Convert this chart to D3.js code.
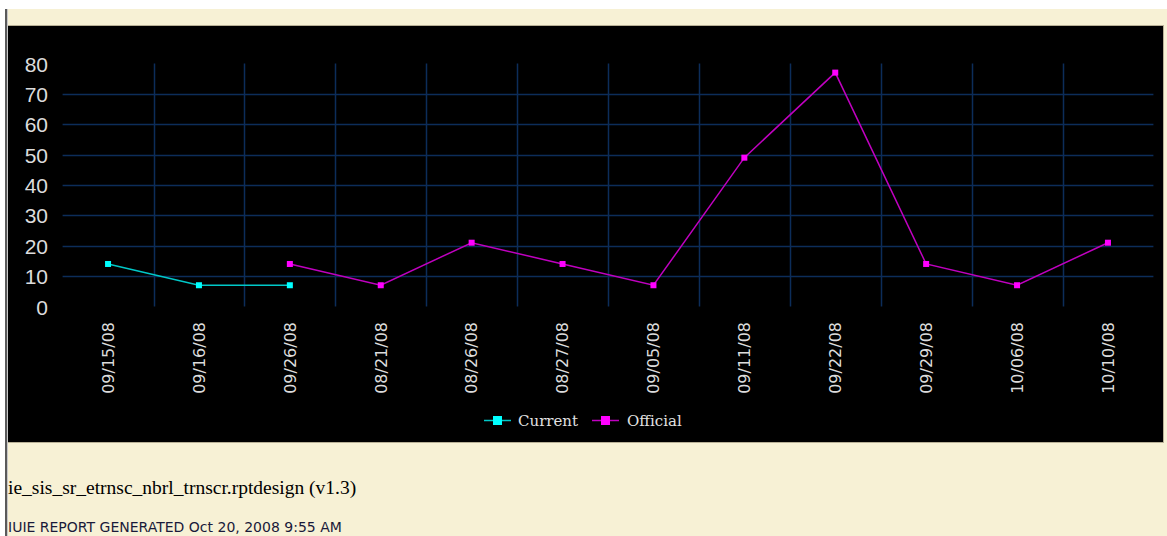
<!DOCTYPE html>
<html><head><meta charset="utf-8">
<script src="https://cdn.jsdelivr.net/npm/d3@7"></script>
<style>html,body{margin:0;padding:0;background:#fff;overflow:hidden}</style>
</head><body>
<svg id="c" width="1167" height="536"></svg>
<script>
const categories = ["09/15/08","09/16/08","09/26/08","08/21/08","08/26/08","08/27/08","09/05/08","09/11/08","09/22/08","09/29/08","10/06/08","10/10/08"];
const currentValues = [14, 7, 7, null, null, null, null, null, null, null, null, null];
const officialValues = [null, null, 14, 7, 21, 14, 7, 49, 77, 14, 7, 21];
const yTicks = [0, 10, 20, 30, 40, 50, 60, 70, 80];
const seriesNames = ["Current", "Official"];
const footer1 = "ie_sis_sr_etrnsc_nbrl_trnscr.rptdesign (v1.3)";
const footer2 = "IUIE REPORT GENERATED Oct 20, 2008 9:55 AM";

const svg = d3.select("#c");
// page background
svg.append("rect").attr("x",0).attr("y",0).attr("width",1167).attr("height",536).attr("fill","#ffffff");
svg.append("rect").attr("x",6).attr("y",9).attr("width",1161).attr("height",527).attr("fill","#f7f1d5");
svg.append("rect").attr("x",5).attr("y",9).attr("width",2).attr("height",527).attr("fill","#5a5a5a");
svg.append("rect").attr("x",7).attr("y",9).attr("width",1).attr("height",527).attr("fill","#c8c8c8");
// chart panel
svg.append("rect").attr("x",8).attr("y",25).attr("width",1156).attr("height",418).attr("fill","#b8b096");
svg.append("rect").attr("x",8).attr("y",26).attr("width",1155).attr("height",416).attr("fill","#000000");

const x = d3.scaleBand().domain(categories).range([62.6, 1153.4]);
const y = d3.scaleLinear().domain([0, 80]).range([306.5, 63.5]);
const gridColor = "#0c2d5a";

// horizontal grid
svg.append("g").selectAll("line").data(yTicks.filter(t => t > 0 && t < 80)).join("line")
  .attr("x1", 62.6).attr("x2", 1153.4)
  .attr("y1", d => Math.round(y(d)) + 0.5).attr("y2", d => Math.round(y(d)) + 0.5)
  .attr("stroke", gridColor).attr("stroke-width", 1.5);
// vertical grid at inner band boundaries
svg.append("g").selectAll("line").data(categories.slice(1)).join("line")
  .attr("x1", d => Math.round(x(d)) + 0.5).attr("x2", d => Math.round(x(d)) + 0.5)
  .attr("y1", y(80)).attr("y2", y(0))
  .attr("stroke", gridColor).attr("stroke-width", 1.5);

// y axis labels
const yAxis = d3.axisLeft(y).tickValues(yTicks).tickSize(0).tickPadding(0);
const gy = svg.append("g").attr("transform", "translate(48,0)").call(yAxis);
gy.select(".domain").remove();
gy.selectAll("text").attr("fill", "#dcdcdc").attr("font-family", "Liberation Sans, Arial, sans-serif")
  .attr("font-size", 21).attr("dy", "0.36em");

// x axis labels
const xAxis = d3.axisBottom(x).tickSize(0).tickPadding(0);
const gx = svg.append("g").attr("transform", "translate(0,322)").call(xAxis);
gx.select(".domain").remove();
gx.selectAll("text").attr("fill", "#dcdcdc").attr("font-family", "DejaVu Sans, Verdana, sans-serif")
  .attr("font-size", 16).attr("text-anchor", "end")
  .attr("transform", "rotate(-90)").attr("x", 0).attr("y", 0).attr("dy", "0.36em");

const cx = d => x(d) + x.bandwidth() / 2;
const series = [
  {name: seriesNames[0], values: currentValues, line: "#00c8c8", marker: "#00ffff"},
  {name: seriesNames[1], values: officialValues, line: "#c000c0", marker: "#ff00ff"}
];
series.forEach(s => {
  const pts = categories.map((c, i) => ({c, v: s.values[i]}));
  const line = d3.line().defined(p => p.v != null).x(p => cx(p.c)).y(p => y(p.v));
  svg.append("path").datum(pts).attr("d", line).attr("fill", "none")
    .attr("stroke", s.line).attr("stroke-width", 1.5);
  svg.append("g").selectAll("rect").data(pts.filter(p => p.v != null)).join("rect")
    .attr("x", p => cx(p.c) - 3).attr("y", p => y(p.v) - 3)
    .attr("width", 6).attr("height", 6).attr("fill", s.marker);
});

// legend
const legendItems = [
  {name: seriesNames[0], x0: 484, line: "#00c8c8", marker: "#00ffff", tx: 518},
  {name: seriesNames[1], x0: 592, line: "#c000c0", marker: "#ff00ff", tx: 627}
];
const lg = svg.append("g");
legendItems.forEach(it => {
  lg.append("line").attr("x1", it.x0).attr("x2", it.x0 + 27).attr("y1", 420.5).attr("y2", 420.5)
    .attr("stroke", it.line).attr("stroke-width", 1.5);
  lg.append("rect").attr("x", it.x0 + 9).attr("y", 416).attr("width", 9).attr("height", 9).attr("fill", it.marker);
  lg.append("text").attr("x", it.tx).attr("y", 426).text(it.name)
    .attr("fill", "#e2e2e2").attr("font-family", "DejaVu Serif, serif").attr("font-size", 15);
});

// footer
svg.append("text").attr("x", 8).attr("y", 494).text(footer1)
  .attr("fill", "#000").attr("font-family", "Liberation Serif, Times New Roman, serif").attr("font-size", 19.5);
svg.append("text").attr("x", 8).attr("y", 532).text(footer2)
  .attr("fill", "#1a1a3a").attr("font-family", "DejaVu Sans, Verdana, sans-serif").attr("font-size", 14);
</script>
</body></html>
